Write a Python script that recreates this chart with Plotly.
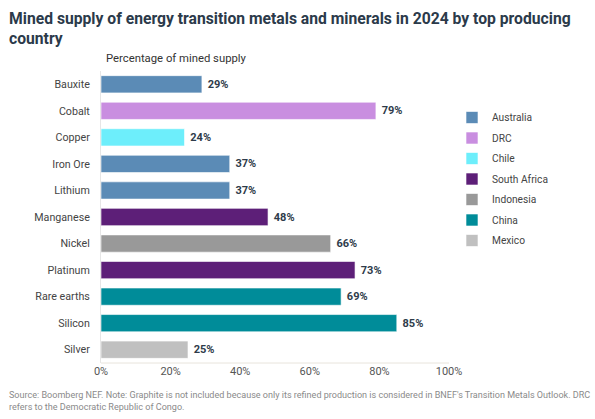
import plotly.graph_objects as go

minerals = ["Bauxite", "Cobalt", "Copper", "Iron Ore", "Lithium", "Manganese",
            "Nickel", "Platinum", "Rare earths", "Silicon", "Silver"]
shares = [29, 79, 24, 37, 37, 48, 66, 73, 69, 85, 25]
top_country = ["Australia", "DRC", "Chile", "Australia", "Australia", "South Africa",
               "Indonesia", "South Africa", "China", "China", "Mexico"]
countries = ["Australia", "DRC", "Chile", "South Africa", "Indonesia", "China", "Mexico"]
colors = {"Australia": "#5b8bb6", "DRC": "#c98ee0", "Chile": "#6deefb",
          "South Africa": "#5d1f78", "Indonesia": "#999999", "China": "#008c99",
          "Mexico": "#c0c0c0"}
tick_vals = [0, 20, 40, 60, 80, 100]
tick_text = ["0%", "20%", "40%", "60%", "80%", "100%"]

W, H = 595, 419
ml, mr, mt, mb = 101, 146, 71, 56
pw, ph = W - ml - mr, H - mt - mb

fig = go.Figure()
for c in countries:
    xs = [v for v, tc in zip(shares, top_country) if tc == c]
    ys = [m for m, tc in zip(minerals, top_country) if tc == c]
    fig.add_trace(go.Bar(
        x=xs, y=ys, orientation="h", name=c, legendgroup=c,
        marker=dict(color=colors[c], line=dict(color="rgba(255,255,255,0.6)", width=1)),
        text=[f" {v}%" for v in xs], textposition="outside",
        textfont=dict(family="Roboto", size=11, color="#2e3b4a", weight="bold"),
        cliponaxis=False, hoverinfo="x+y",
    ))

fig.update_layout(
    width=W, height=H,
    margin=dict(l=ml, r=mr, t=mt, b=mb),
    paper_bgcolor="white", plot_bgcolor="white",
    barmode="relative", bargap=0.35,
    font=dict(family="Roboto", size=11, color="#333333"),
    showlegend=True,
    legend=dict(x=(452 - ml) / pw, xanchor="left",
                y=(H - mb - 103) / ph, yanchor="top",
                font=dict(family="Roboto", size=10.2, color="#444444"),
                tracegroupgap=1.5, itemwidth=30, bgcolor="rgba(0,0,0,0)"),
    xaxis=dict(range=[0, 100], tickvals=tick_vals, ticktext=tick_text,
               showgrid=False, zeroline=False, showline=False,
               tickfont=dict(family="Roboto", size=11, color="#555555"),
               ticks="", ticklen=0),
    yaxis=dict(categoryorder="array", categoryarray=minerals, autorange="reversed",
               showgrid=False, zeroline=False, showline=True, linecolor="#e6e6e6",
               linewidth=1, mirror=False, ticks="", ticklabelstandoff=8,
               tickfont=dict(family="Roboto", size=10.7, color="#444444")),
    shapes=[dict(type="line", xref="paper", yref="paper", x0=0, x1=1, y0=0, y1=0,
                 line=dict(color="#e8e4dc", width=1))],
    annotations=[
        dict(text="<b>Mined supply of energy transition metals and minerals in 2024 by top producing<br>country</b>",
             xref="paper", yref="paper", x=-(ml - 7) / pw, y=1 + (mt - 7) / ph,
             xanchor="left", yanchor="top", align="left", showarrow=False,
             font=dict(family="Roboto", size=15.7, color="#2b3a4a")),
        dict(text="Percentage of mined supply",
             xref="paper", yref="paper", x=(104 - ml) / pw, y=1 + (mt - 50) / ph,
             xanchor="left", yanchor="top", showarrow=False,
             font=dict(family="Roboto", size=11.3, color="#333333")),
        dict(text="Source: Boomberg NEF. Note: Graphite is not included because only its refined production is considered in BNEF's Transition Metals Outlook. DRC<br>refers to the Democratic Republic of Congo.",
             xref="paper", yref="paper", x=-(ml - 7) / pw, y=-(388 - (H - mb)) / ph,
             xanchor="left", yanchor="top", align="left", showarrow=False,
             font=dict(family="Roboto", size=9.05, color="#8a8a8a")),
    ],
)

fig.write_html("out.html")
